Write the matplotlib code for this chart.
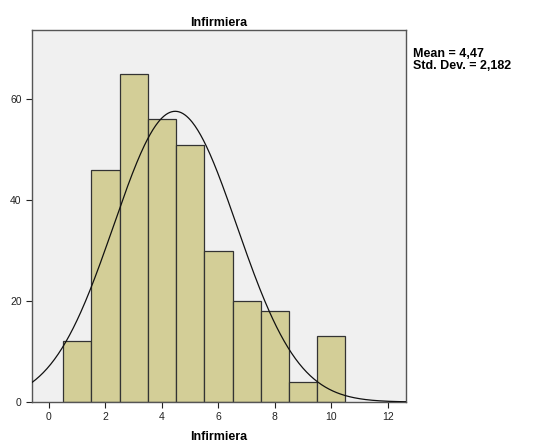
import numpy as np
import matplotlib
matplotlib.use("Agg")
import matplotlib.pyplot as plt

plt.rcParams['font.family'] = ['Liberation Sans', 'DejaVu Sans']

# histogram data
bin_centers = [1, 2, 3, 4, 5, 6, 7, 8, 9, 10]
counts = [12, 46, 65, 56, 51, 30, 20, 18, 4, 13]
mean_val = 4.47
std_val = 2.182
bin_width = 1.0

fig = plt.figure(figsize=(5.38, 4.45), dpi=100)
ax = fig.add_axes([0.0595, 0.0966, 0.695, 0.836])
ax.set_facecolor("#f0f0f0")

ax.bar(bin_centers, counts, width=bin_width, color="#d3ce97",
       edgecolor="#333333", linewidth=0.9, zorder=2)

n_total = sum(counts)
xs = np.linspace(-0.6, 12.64, 400)
ys = n_total * bin_width * np.exp(-0.5 * ((xs - mean_val) / std_val) ** 2) / (std_val * np.sqrt(2 * np.pi))
ax.plot(xs, ys, color="#111111", linewidth=0.9, zorder=3)

ax.set_xlim(-0.6, 12.64)
ax.set_ylim(0, 73.7)
ax.set_xticks([0, 2, 4, 6, 8, 10, 12])
ax.set_yticks([0, 20, 40, 60])
ax.tick_params(direction="out", length=4, width=0.8, labelsize=7.5, colors="#222222")
for s in ax.spines.values():
    s.set_color("#555555")
    s.set_linewidth(1.0)

ax.set_title("Infirmiera", fontsize=9, fontweight="bold", pad=3)
ax.set_xlabel("Infirmiera", fontsize=9, fontweight="bold", labelpad=6)

fig.text(0.768, 0.865, "Mean = 4,47\nStd. Dev. = 2,182", fontsize=9,
         fontweight="bold", va="center", ha="left", linespacing=0.95)

fig.savefig("out.png", dpi=100)
